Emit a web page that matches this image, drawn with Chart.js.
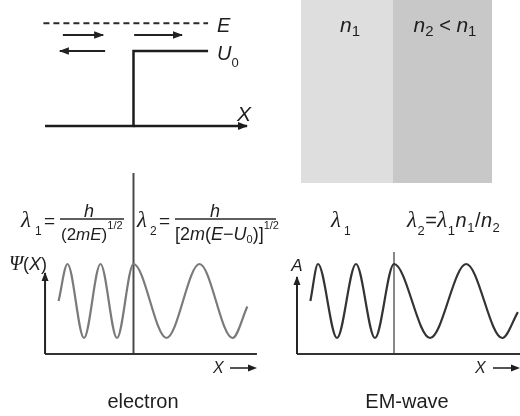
<!DOCTYPE html>
<html><head><meta charset="utf-8">
<script src="https://cdn.jsdelivr.net/npm/chart.js@4"></script>
<style>
html,body{margin:0;padding:0;background:#fff;}
#wrap{position:relative;width:520px;height:416px;overflow:hidden;background:#fff;}
#wrap canvas{position:absolute;}
</style></head><body>
<div id="wrap">
<canvas id="cB" width="191" height="183" style="left:301px;top:0px"></canvas>
<canvas id="cA" width="270" height="170" style="left:0px;top:0px"></canvas>
<canvas id="cC" width="285" height="246" style="left:0px;top:170px"></canvas>
<canvas id="cD" width="235" height="246" style="left:285px;top:170px"></canvas>
</div>
<script>
// ---------- DATA ----------
// Panel A: potential step (x in units of the incident wavelength, energy in units of U0)
const potX = [-2.68, 0, 0, 2.26];
const potU = [0, 0, 1, 1];
const xAxisA = [0, 3.44];
const energyX = [-2.73, 2.26];
const energyE = 1.37;
const incidentX = [-2.14, -0.92];
const transmittedX = [0.02, 1.47];
const reflectedX = [-0.86, -2.23];
const fluxLevels = [1.213, 1.0];   // incident/transmitted level, reflected level

// Panel B: two media
const media = ['n1', 'n2 < n1'];
const mediumEdges = [0, 0.92, 1.91];

// Panel C: electron wave function (x in units of λ1, Ψ normalised)
const eWaveX   = [-2.27, -2, -1.5, -1, -0.5, 0, 1, 2, 3, 3.45];
const eWavePsi = [0, 1, -1, 1, -1, 1, -1, 1, -1, -0.15];
const eAxisX = [-2.68, 3.74];
const eAxisPsi = [-1.432, 0.757];
const eInterfacePsi = [3.46, -1.432];

// Panel D: EM wave (x in units of λ1, amplitude normalised)
const emWaveX = [-2.2, -2, -1.5, -1, -0.5, 0, 0.95, 1.9, 2.85, 3.26];
const emWaveA = [0, 1, -1, 1, -1, 1, -1, 1, -1, -0.3];
const emAxisX = [-2.553, 3.316];
const emAxisA = [-1.432, 0.649];
const emInterfaceA = [1.324, -1.432];

// ---------- HELPERS ----------
const SANS = '"Liberation Sans", Arial, sans-serif';
const SERIF = '"Liberation Serif", "Times New Roman", serif';
const rr = (t, s, dy = 0) => ({ t, font: `${s}px ${SANS}`, dy });
const it = (t, s, dy = 0) => ({ t, font: `italic ${s}px ${SANS}`, dy });
const gk = (t, s, dy = 0) => ({ t, font: `italic ${s}px ${SERIF}`, dy });
const pts = (xs, ys) => xs.map((x, i) => ({ x, y: ys[i] }));
const flat = (xs, y) => xs.map(x => ({ x, y }));
const vert = (x, ys) => ys.map(y => ({ x, y }));

function seg(data, color, width, extra) {
  return Object.assign({ data, showLine: true, borderColor: color, backgroundColor: color,
    borderWidth: width, pointRadius: 0, pointHoverRadius: 0, fill: false }, extra || {});
}

const arrowPlugin = {
  id: 'arrowHeads',
  afterDatasetsDraw(chart) {
    const ctx = chart.ctx;
    chart.data.datasets.forEach((ds, i) => {
      if (!ds.arrowEnd) return;
      const p = chart.getDatasetMeta(i).data;
      const a = p[p.length - 2], b = p[p.length - 1];
      const ang = Math.atan2(b.y - a.y, b.x - a.x);
      const L = ds.arrowEnd.len, H = ds.arrowEnd.half;
      const bx = b.x - L * Math.cos(ang), by = b.y - L * Math.sin(ang);
      ctx.save();
      ctx.fillStyle = ds.borderColor;
      ctx.beginPath();
      ctx.moveTo(b.x + Math.cos(ang), b.y + Math.sin(ang));
      ctx.lineTo(bx - H * Math.sin(ang), by + H * Math.cos(ang));
      ctx.lineTo(bx + H * Math.sin(ang), by - H * Math.cos(ang));
      ctx.closePath();
      ctx.fill();
      ctx.restore();
    });
  }
};

function drawLabels(ctx, labels, ox, oy) {
  ctx.save();
  ctx.fillStyle = '#1e1e1e';
  ctx.strokeStyle = '#2a2a2a';
  ctx.textBaseline = 'alphabetic';
  for (const L of labels) {
    if (L.type === 'rule') {
      ctx.lineWidth = L.w || 1.4;
      ctx.beginPath(); ctx.moveTo(L.x1 - ox, L.y - oy); ctx.lineTo(L.x2 - ox, L.y - oy); ctx.stroke();
    } else if (L.type === 'harrow') {
      ctx.lineWidth = 1.6;
      ctx.beginPath(); ctx.moveTo(L.x1 - ox, L.y - oy); ctx.lineTo(L.x2 - 6 - ox, L.y - oy); ctx.stroke();
      ctx.beginPath(); ctx.moveTo(L.x2 - ox, L.y - oy);
      ctx.lineTo(L.x2 - 9 - ox, L.y - 3.5 - oy); ctx.lineTo(L.x2 - 9 - ox, L.y + 3.5 - oy);
      ctx.closePath(); ctx.fill();
    } else {
      const gap = L.gap || 0;
      let w = 0;
      for (const r of L.runs) { ctx.font = r.font; r._w = ctx.measureText(r.t).width; w += r._w + gap; }
      w -= gap;
      let x = (L.align === 'center' ? L.x - w / 2 : L.x) - ox;
      for (const r of L.runs) { ctx.font = r.font; ctx.fillText(r.t, x, L.y - oy + r.dy); x += r._w + gap; }
    }
  }
  ctx.restore();
}

function makeChart(id, xr, yr, datasets, labels, ox, oy) {
  return new Chart(document.getElementById(id), {
    type: 'scatter',
    data: { datasets },
    options: {
      responsive: false, animation: false, devicePixelRatio: 1,
      layout: { padding: 0 },
      events: [],
      plugins: { legend: { display: false }, tooltip: { enabled: false }, title: { display: false } },
      scales: {
        x: { type: 'linear', display: false, min: xr[0], max: xr[1] },
        y: { type: 'linear', display: false, min: yr[0], max: yr[1] }
      }
    },
    plugins: [arrowPlugin, { id: 'txt', afterDraw(c) { drawLabels(c.ctx, labels, ox, oy); } }]
  });
}

// ---------- PANEL A ----------
const dark = '#1c1c1c';
makeChart('cA', [-4.045, 4.136], [-0.5867, 1.68], [
  seg(pts(potX, potU), dark, 2.5),
  seg(flat(xAxisA, 0), dark, 2.5, { arrowEnd: { len: 9, half: 4 } }),
  seg(flat(energyX, energyE), '#2a2a2a', 2, { borderDash: [6, 4] }),
  seg(flat(incidentX, fluxLevels[0]), '#222', 2, { arrowEnd: { len: 9, half: 3.8 } }),
  seg(flat(transmittedX, fluxLevels[0]), '#222', 2, { arrowEnd: { len: 9, half: 3.8 } }),
  seg(flat(reflectedX, fluxLevels[1]), '#222', 2, { arrowEnd: { len: 9, half: 3.8 } })
], [
  { x: 217, y: 32, runs: [it('E', 20)] },
  { x: 217, y: 60, runs: [it('U', 20), rr('0', 13, 7)] },
  { x: 237, y: 121, runs: [it('X', 21)] }
], 0, 0);

// ---------- PANEL B ----------
const shades = ['#dedede', '#c8c8c8'];
makeChart('cB', [0, 1.91], [0, 1], media.map((m, i) => ({
  label: m,
  data: flat([mediumEdges[i], mediumEdges[i + 1]], 1),
  showLine: true, pointRadius: 0, borderWidth: 0, borderColor: 'rgba(0,0,0,0)',
  backgroundColor: shades[i], fill: 'start'
})), [
  { x: 350, y: 32, align: 'center', runs: [it('n', 21), rr('1', 15, 4)] },
  { x: 445, y: 32, align: 'center', runs: [it('n', 21), rr('2', 15, 4), rr(' < ', 20), it('n', 21), rr('1', 15, 4)] }
], 301, 0);

// ---------- PANEL C ----------
makeChart('cC', [-4.045, 4.591], [-3.108, 3.541], [
  seg(pts(eWaveX, eWavePsi), '#7a7a7a', 2.2, { cubicInterpolationMode: 'monotone' }),
  seg(vert(eAxisX[0], eAxisPsi), '#222', 2, { arrowEnd: { len: 8, half: 3.5 } }),
  seg(flat(eAxisX, eAxisPsi[0]), '#333', 2),
  seg(vert(0, eInterfacePsi), '#4a4a4a', 2)
], [
  { x: 21, y: 227, runs: [gk('λ', 23)] },
  { x: 35, y: 235, runs: [rr('1', 12)] },
  { x: 44, y: 227, runs: [rr('=', 19)] },
  { type: 'rule', x1: 60, x2: 124, y: 219 },
  { x: 89, y: 217, align: 'center', runs: [it('h', 18)] },
  { x: 61, y: 240, runs: [rr('(2', 17), it('mE', 17), rr(')', 17), rr('1/2', 11, -11)] },
  { x: 137, y: 227, runs: [gk('λ', 23)] },
  { x: 150, y: 235, runs: [rr('2', 12)] },
  { x: 159, y: 227, runs: [rr('=', 19)] },
  { type: 'rule', x1: 175, x2: 276, y: 219 },
  { x: 215, y: 217, align: 'center', runs: [it('h', 18)] },
  { x: 175, y: 240, runs: [rr('[2', 18), it('m', 18), rr('(', 18), it('E', 18), rr('−', 18), it('U', 18), rr('0', 11, 3), rr(')]', 18), rr('1/2', 11, -11)] },
  { x: 9, y: 270, runs: [gk('Ψ', 20), rr('(', 18), it('X', 18), rr(')', 18)] },
  { x: 213, y: 373, runs: [it('X', 16)] },
  { type: 'harrow', x1: 230, x2: 257, y: 368 },
  { x: 143, y: 408, align: 'center', runs: [rr('electron', 20)] }
], 0, 170);

// ---------- PANEL D ----------
makeChart('cD', [-2.868, 3.316], [-3.108, 3.541], [
  seg(pts(emWaveX, emWaveA), '#333', 2.2, { cubicInterpolationMode: 'monotone' }),
  seg(vert(emAxisX[0], emAxisA), '#222', 2, { arrowEnd: { len: 8, half: 3.5 } }),
  seg(flat(emAxisX, emAxisA[0]), '#333', 2),
  seg(vert(0, emInterfaceA), '#777', 1)
], [
  { x: 331, y: 227, runs: [gk('λ', 23)] },
  { x: 344, y: 235, runs: [rr('1', 12)] },
  { x: 407, y: 227, gap: 0.5, runs: [gk('λ', 23), rr('2', 13, 8), rr('=', 20), gk('λ', 23), rr('1', 13, 8), it('n', 20), rr('1', 13, 5), rr('/', 20), it('n', 20), rr('2', 13, 5)] },
  { x: 297, y: 271, align: 'center', runs: [it('A', 17)] },
  { x: 475, y: 373, runs: [it('X', 16)] },
  { type: 'harrow', x1: 493, x2: 520, y: 368 },
  { x: 407, y: 408, align: 'center', runs: [rr('EM-wave', 20)] }
], 285, 170);
</script>
</body></html>
